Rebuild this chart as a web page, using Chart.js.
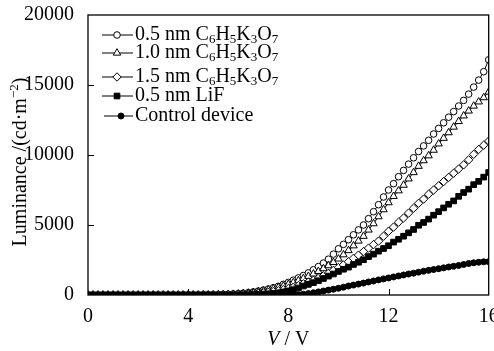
<!DOCTYPE html>
<html><head><meta charset="utf-8">
<script src="https://cdn.jsdelivr.net/npm/chart.js@4/dist/chart.umd.min.js"></script>
<style>html,body{margin:0;padding:0;background:#fff}</style>
</head><body>
<canvas id="c" width="494" height="351"></canvas>
<script>
// ---- data ----
const voltages = [0,0.2,0.4,0.6,0.8,1,1.2,1.4,1.6,1.8,2,2.2,2.4,2.6,2.8,3,3.2,3.4,3.6,3.8,4,4.2,4.4,4.6,4.8,5,5.2,5.4,5.6,5.8,6,6.2,6.4,6.6,6.8,7,7.2,7.4,7.6,7.8,8,8.2,8.4,8.6,8.8,9,9.2,9.4,9.6,9.8,10,10.2,10.4,10.6,10.8,11,11.2,11.4,11.6,11.8,12,12.2,12.4,12.6,12.8,13,13.2,13.4,13.6,13.8,14,14.2,14.4,14.6,14.8,15,15.2,15.4,15.6,15.8,16];
const lum05CK = [0,0,0,0,0,0,0,0,0,0,0,0,0,0,0,0,0,0,0,0,5,5,8,10,15,20,30,40,55,75,100,130,170,220,280,350,430,520,620,760,900,1060,1220,1390,1580,1800,2030,2280,2560,2920,3300,3620,3950,4300,4650,5000,5450,5950,6450,7000,7500,7950,8450,8900,9350,9800,10250,10650,11050,11500,11900,12300,12700,13100,13500,13900,14350,14850,15350,15950,16800];
const lum10CK = [0,0,0,0,0,0,0,0,0,0,0,0,0,0,0,0,0,0,0,0,5,5,6,8,12,16,24,32,45,60,80,105,140,185,235,295,365,445,535,640,760,890,1030,1180,1340,1510,1690,1890,2100,2330,2580,2880,3180,3520,3860,4200,4650,5100,5600,6100,6600,7050,7450,7850,8300,8750,9200,9600,9950,10350,10800,11200,11600,12000,12400,12800,13150,13500,13800,14100,14500];
const lum15CK = [0,0,0,0,0,0,0,0,0,0,0,0,0,0,0,0,0,0,0,0,0,0,0,0,0,5,8,12,18,25,35,48,65,85,115,150,195,245,305,380,460,560,680,800,920,1050,1200,1370,1550,1760,1960,2150,2380,2620,2850,3100,3350,3600,3850,4200,4550,4850,5200,5500,5850,6200,6550,6850,7200,7500,7800,8100,8400,8700,9000,9300,9650,10050,10400,10700,11000];
const lum05LiF = [0,0,0,0,0,0,0,0,0,0,0,0,0,0,0,0,0,0,0,0,0,0,0,0,0,0,0,0,0,0,5,10,18,30,45,65,90,120,160,220,290,380,500,640,760,880,1020,1180,1350,1500,1680,1840,1990,2180,2340,2520,2740,2920,3130,3320,3520,3780,3980,4200,4440,4680,4980,5180,5420,5700,5950,6220,6480,6720,7050,7320,7560,7880,8120,8420,8750];
const lumControl = [0,0,0,0,0,0,0,0,0,0,0,0,0,0,0,0,0,0,0,0,0,0,0,0,0,0,0,0,0,0,0,0,0,0,0,0,0,0,0,0,10,15,25,55,100,160,220,285,350,415,480,560,640,710,780,850,930,1000,1080,1150,1220,1290,1360,1430,1500,1560,1630,1700,1760,1820,1880,1940,2000,2050,2110,2180,2250,2300,2340,2370,2380];
const seriesLabels = ['0.5 nm C<6>H<5>K<3>O<7>','1.0 nm C<6>H<5>K<3>O<7>','1.5 nm C<6>H<5>K<3>O<7>','0.5 nm LiF','Control device'];
const xTicks = [0,4,8,12,16];
const yTicks = [0,5000,10000,15000,20000];
const yTitle = 'Luminance /(cd·m<^−2>)';

// ---- styles ----
const styles = [
  {pointStyle:'circle', radius:3.3, fill:'#fff'},
  {pointStyle:'triangle', radius:4.3, fill:'#fff'},
  {pointStyle:'rectRot', radius:4.2, fill:'#fff'},
  {pointStyle:'rect', radius:4, fill:'#000'},
  {pointStyle:'circle', radius:3, fill:'#000'}
];
const seriesData = [lum05CK, lum10CK, lum15CK, lum05LiF, lumControl];
const FONT = '"Liberation Serif", "Times New Roman", serif';

const datasets = seriesData.map((arr, k) => ({
  label: seriesLabels[k],
  data: voltages.map((v, i) => ({x: v, y: arr[i]})),
  borderColor: '#000', borderWidth: 1,
  pointStyle: styles[k].pointStyle, pointRadius: styles[k].radius,
  pointBackgroundColor: styles[k].fill, pointBorderColor: '#000', pointBorderWidth: 1,
  showLine: true, tension: 0, fill: false
})).reverse();

function parseRich(s){
  const parts=[]; const re=/<(\^?)([^>]+)>|([^<]+)/g; let m;
  while((m=re.exec(s))){ if(m[3]) parts.push({t:m[3]}); else parts.push({t:m[2], sub:!m[1], sup:!!m[1]}); }
  return parts;
}
function richWidth(ctx, parts, size, small){
  let w=0; parts.forEach(p=>{ctx.font=((p.sub||p.sup)?small:size)+'px '+FONT; w+=ctx.measureText(p.t).width;}); return w;
}
function drawRich(ctx, parts, x, y, size, small){
  ctx.textBaseline='middle'; ctx.textAlign='left';
  parts.forEach(p=>{
    ctx.font=((p.sub||p.sup)?small:size)+'px '+FONT;
    const dy = p.sub ? size*0.25 : (p.sup ? -size*0.33 : 0);
    ctx.fillText(p.t, x, y+dy); x += ctx.measureText(p.t).width;
  });
}

const deco = {
  id:'deco',
  afterDraw(chart){
    const {ctx, chartArea:a, scales:{x, y}} = chart;
    ctx.save();
    ctx.strokeStyle='#000'; ctx.fillStyle='#000';
    ctx.lineWidth=1.3;
    ctx.strokeRect(a.left, a.top, a.right-a.left, a.bottom-a.top);
    ctx.lineWidth=1;
    ctx.beginPath();
    xTicks.forEach(v=>{ if(v>xTicks[0] && v<xTicks[xTicks.length-1]){ const px=Math.round(x.getPixelForValue(v))+0.5; ctx.moveTo(px,a.bottom); ctx.lineTo(px,a.bottom-6);} });
    yTicks.forEach(v=>{ if(v>yTicks[0] && v<yTicks[yTicks.length-1]){ const py=Math.round(y.getPixelForValue(v))+0.5; ctx.moveTo(a.left,py); ctx.lineTo(a.left+6,py);} });
    ctx.stroke();
    // legend
    const rowsY=[35,53,77,96,116];
    seriesLabels.forEach((lab,k)=>{
      const cy=rowsY[k];
      const x0 = k===4?104:102, x1=133, mx = k===4?121:117;
      ctx.strokeStyle='#000'; ctx.lineWidth=1;
      ctx.beginPath(); ctx.moveTo(x0,cy); ctx.lineTo(x1,cy); ctx.stroke();
      ctx.fillStyle=styles[k].fill; ctx.strokeStyle='#000';
      Chart.helpers.drawPoint(ctx,{pointStyle:styles[k].pointStyle, radius:styles[k].radius, borderWidth:1, rotation:0}, mx, cy);
      ctx.fillStyle='#000';
      drawRich(ctx, parseRich(lab), 135, cy, 20, 13);
    });
    // y title
    ctx.save();
    ctx.translate(21, 162); ctx.rotate(-Math.PI/2);
    const yp=parseRich(yTitle); const yw=richWidth(ctx,yp,20,13);
    drawRich(ctx, yp, -yw/2, 0, 20, 13);
    ctx.restore();
    // x title
    ctx.font='italic 20px '+FONT; const w1=ctx.measureText('V').width;
    ctx.font='20px '+FONT; const w2=ctx.measureText(' / V').width;
    let sx = (a.left+a.right)/2 - (w1+w2)/2;
    ctx.textBaseline='middle'; ctx.textAlign='left';
    ctx.font='italic 20px '+FONT; ctx.fillText('V', sx, 340);
    ctx.font='20px '+FONT; ctx.fillText(' / V', sx+w1, 340);
    ctx.restore();
  }
};

new Chart(document.getElementById('c'), {
  type:'line',
  data:{datasets},
  options:{
    responsive:false, animation:false, devicePixelRatio:1,
    layout:{padding:{top:15,right:5,left:0,bottom:0}},
    plugins:{legend:{display:false}, tooltip:{enabled:false}},
    scales:{
      x:{type:'linear', min:0, max:16,
        afterBuildTicks:s=>{s.ticks=xTicks.map(v=>({value:v}));},
        afterFit:s=>{s.height=56; s.paddingRight=0; s.paddingLeft=0;},
        grid:{display:false}, border:{display:false},
        ticks:{color:'#000', font:{family:FONT, size:20}, padding:2, maxRotation:0, autoSkip:false, callback:v=>String(v)}},
      y:{type:'linear', min:0, max:20000,
        afterBuildTicks:s=>{s.ticks=yTicks.map(v=>({value:v}));},
        afterFit:s=>{s.width=88; s.paddingTop=0; s.paddingBottom=0;},
        grid:{display:false}, border:{display:false},
        ticks:{color:'#000', font:{family:FONT, size:20}, padding:6, autoSkip:false, callback:v=>String(v)}}
    }
  },
  plugins:[deco]
});
</script>
</body></html>
